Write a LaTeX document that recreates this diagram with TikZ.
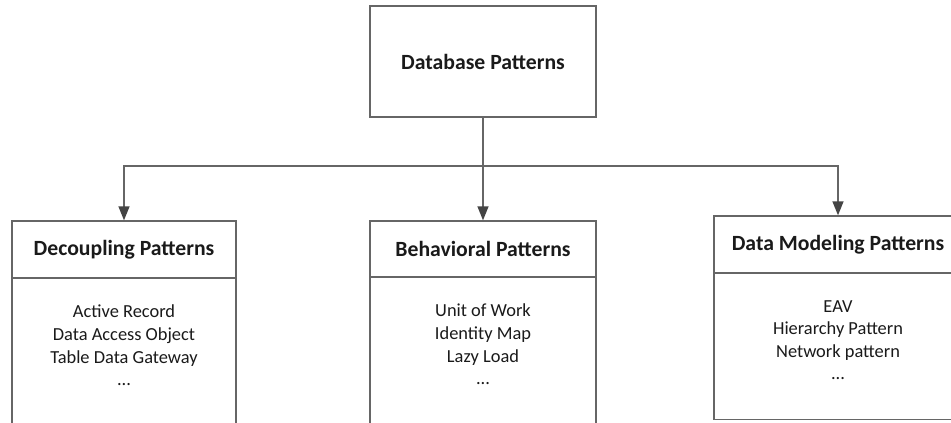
\documentclass[tikz,border=0pt]{standalone}
\usepackage{fontspec}
\setmainfont{Carlito}
\usetikzlibrary{arrows.meta}
\definecolor{linegray}{HTML}{666666}
\definecolor{tipgray}{HTML}{444444}
\definecolor{txt}{HTML}{1A1A1A}
\begin{document}
\begin{tikzpicture}[x=1pt,y=-1pt,
  box/.style={draw=linegray,line width=1.4pt,fill=white,rectangle,inner sep=0pt,
    text=txt,font=\bfseries\fontsize{21.7}{26}\selectfont},
  bodybox/.style={draw=linegray,line width=1.4pt,fill=white,rectangle,inner sep=0pt,anchor=north},
  bodytext/.style={text=txt,align=center,inner sep=0pt,anchor=north,
    font=\fontsize{18.4}{22.6}\selectfont},
  conn/.style={draw=linegray,line width=1.4pt},
  arr/.style={conn,-{Triangle[length=14pt,width=11pt,fill=tipgray,color=tipgray]}}]
\useasboundingbox (0,0) rectangle (951,423);
\clip (0,0) rectangle (951,423);
\fill[white] (0,0) rectangle (951,423);

% top node
\node[box,minimum width=226pt,minimum height=111pt] (top) at (483,61.5) {Database Patterns};

% bodies (drawn first so headers overlap the shared edge)
\node[bodybox,minimum width=224pt,minimum height=170pt] (leftbody) at (124,278) {};
\node[bodybox,minimum width=226pt,minimum height=170pt] (midbody) at (483,277) {};
\node[bodybox,minimum width=248pt,minimum height=146pt] (rightbody) at (838,273) {};

% headers
\node[box,minimum width=224pt,minimum height=57pt] (lefthdr) at (124,249.5) {Decoupling Patterns};
\node[box,minimum width=226pt,minimum height=56pt] (midhdr) at (483,249) {Behavioral Patterns};
\node[box,minimum width=248pt,minimum height=57pt] (righthdr) at (838,244.5) {Data Modeling Patterns};

% body texts
\node[bodytext] (lefttxt) at (124,305) {Active Record\\Data Access Object\\Table Data Gateway\\...};
\node[bodytext] (midtxt) at (483,304) {Unit of Work\\Identity Map\\Lazy Load\\...};
\node[bodytext] (righttxt) at (838,300) {EAV\\Hierarchy Pattern\\Network pattern\\...};

% connectors
\coordinate (bus) at (483,166);
\draw[conn] (top.south) -- (bus);
\draw[arr] (bus) -| (lefthdr.north);
\draw[arr] (bus) -- (midhdr.north);
\draw[arr] (bus) -| (righthdr.north);
\end{tikzpicture}
\end{document}
